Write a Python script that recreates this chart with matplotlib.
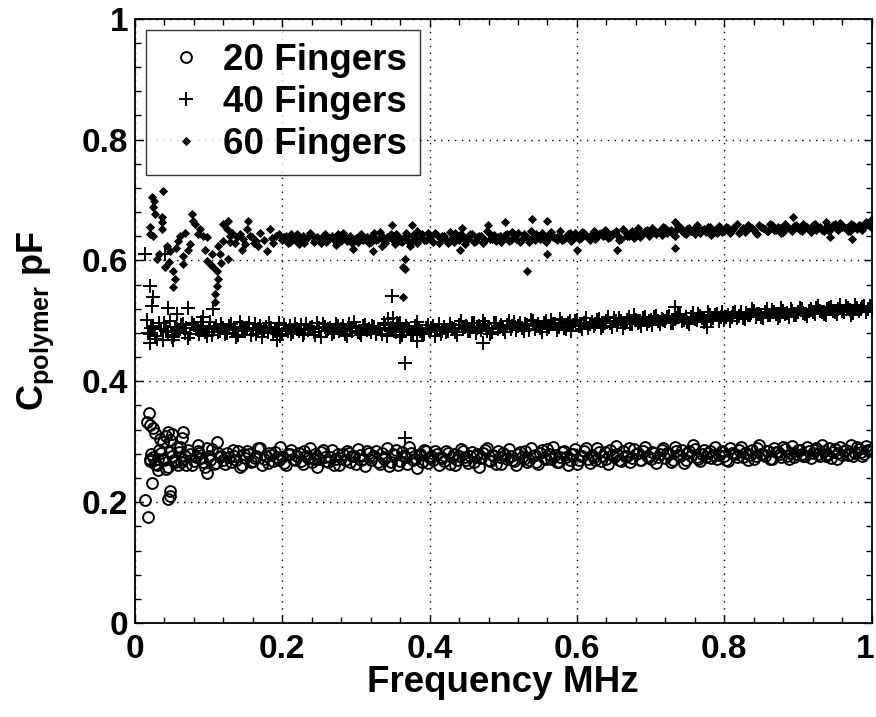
import numpy as np
import matplotlib
matplotlib.use('Agg')
import matplotlib.pyplot as plt
import matplotlib.transforms as mtransforms
from matplotlib.ticker import MultipleLocator

# ---- data ----
# sweep A: frequency step 0.005 MHz starting at 0.02
C20_A = [
    0.268, 0.275, 0.262, 0.281, 0.270, 0.258, 0.277, 0.266,
    0.283, 0.271, 0.262, 0.279, 0.268, 0.285, 0.273, 0.259, 0.276, 0.288, 0.265, 0.274,
    0.270, 0.281, 0.266, 0.277, 0.284, 0.262, 0.273, 0.279, 0.268, 0.276, 0.290, 0.271, 0.265, 0.278, 0.283, 0.269, 0.275, 0.262, 0.280, 0.272,
    0.277, 0.268, 0.284, 0.273, 0.266, 0.279, 0.271, 0.286, 0.268, 0.275, 0.262, 0.280, 0.273, 0.269, 0.282, 0.276, 0.264, 0.278, 0.271, 0.285,
    0.270, 0.277, 0.266, 0.281, 0.274, 0.260, 0.279, 0.287, 0.268, 0.276, 0.263, 0.282, 0.271, 0.278, 0.266, 0.284, 0.273, 0.269, 0.279, 0.275,
    0.268, 0.281, 0.274, 0.262, 0.277, 0.284, 0.270, 0.276, 0.267, 0.280, 0.273, 0.287, 0.269, 0.278, 0.264, 0.275, 0.282, 0.271, 0.277, 0.268,
    0.279, 0.274, 0.285, 0.270, 0.277, 0.266, 0.281, 0.273, 0.288, 0.271, 0.278, 0.267, 0.283, 0.275, 0.270, 0.279, 0.263, 0.277, 0.284, 0.272,
    0.278, 0.269, 0.283, 0.276, 0.271, 0.286, 0.274, 0.280, 0.268, 0.277, 0.290, 0.273, 0.279, 0.270, 0.284, 0.276, 0.272, 0.281, 0.275, 0.287,
    0.273, 0.279, 0.270, 0.284, 0.277, 0.265, 0.281, 0.276, 0.288, 0.272, 0.280, 0.274, 0.285, 0.278, 0.271, 0.283, 0.277, 0.268, 0.282, 0.279,
    0.286, 0.275, 0.281, 0.278, 0.272, 0.289, 0.280, 0.276, 0.284, 0.271, 0.283, 0.279, 0.292, 0.277, 0.282, 0.274, 0.287, 0.280, 0.276, 0.285,
    0.281, 0.290, 0.277, 0.284, 0.279, 0.273, 0.288, 0.282, 0.278, 0.286, 0.280, 0.276, 0.291, 0.283, 0.279, 0.287, 0.284,
]
# sweep B: interleaved, starting at 0.0225
C20_B = [
    0.279, 0.264, 0.286, 0.271, 0.255, 0.283, 0.269, 0.292,
    0.266, 0.277, 0.287, 0.261, 0.274, 0.281, 0.267, 0.290, 0.270, 0.263, 0.282, 0.276,
    0.263, 0.275, 0.286, 0.270, 0.258, 0.279, 0.284, 0.267, 0.273, 0.289, 0.261, 0.277, 0.282, 0.268, 0.274, 0.291, 0.265, 0.280, 0.286, 0.269,
    0.282, 0.264, 0.276, 0.290, 0.271, 0.259, 0.283, 0.275, 0.267, 0.287, 0.272, 0.262, 0.279, 0.284, 0.266, 0.276, 0.288, 0.270, 0.260, 0.281,
    0.275, 0.284, 0.263, 0.272, 0.289, 0.267, 0.278, 0.261, 0.283, 0.274, 0.291, 0.269, 0.257, 0.280, 0.286, 0.265, 0.277, 0.284, 0.262, 0.273,
    0.285, 0.263, 0.279, 0.270, 0.288, 0.274, 0.265, 0.283, 0.277, 0.259, 0.281, 0.290, 0.268, 0.276, 0.285, 0.264, 0.278, 0.288, 0.270, 0.262,
    0.283, 0.272, 0.266, 0.289, 0.278, 0.263, 0.286, 0.271, 0.280, 0.291, 0.267, 0.275, 0.284, 0.262, 0.279, 0.288, 0.269, 0.276, 0.290, 0.265,
    0.274, 0.290, 0.268, 0.283, 0.264, 0.278, 0.293, 0.270, 0.285, 0.276, 0.266, 0.288, 0.281, 0.269, 0.292, 0.274, 0.283, 0.265, 0.279, 0.289,
    0.282, 0.266, 0.291, 0.278, 0.286, 0.270, 0.284, 0.294, 0.275, 0.268, 0.287, 0.281, 0.273, 0.292, 0.278, 0.285, 0.269, 0.290, 0.280, 0.274,
    0.291, 0.282, 0.270, 0.287, 0.276, 0.294, 0.279, 0.285, 0.272, 0.290, 0.283, 0.275, 0.288, 0.271, 0.293, 0.280, 0.286, 0.277, 0.291, 0.273,
    0.287, 0.279, 0.294, 0.276, 0.289, 0.283, 0.272, 0.292, 0.285, 0.278, 0.295, 0.281, 0.288, 0.276, 0.293, 0.286,
]
C40_A = [
    0.478, 0.492, 0.470, 0.486, 0.497, 0.481, 0.474, 0.490,
    0.483, 0.495, 0.488, 0.479, 0.493, 0.485, 0.498, 0.482, 0.489, 0.476, 0.491, 0.484,
    0.488, 0.480, 0.494, 0.486, 0.477, 0.490, 0.483, 0.496, 0.485, 0.479, 0.492, 0.487, 0.481, 0.489, 0.484, 0.497, 0.478, 0.486, 0.491, 0.482,
    0.487, 0.493, 0.480, 0.485, 0.490, 0.477, 0.488, 0.495, 0.483, 0.489, 0.481, 0.492, 0.486, 0.479, 0.494, 0.484, 0.488, 0.480, 0.491, 0.485,
    0.482, 0.490, 0.487, 0.478, 0.493, 0.485, 0.489, 0.481, 0.496, 0.484, 0.488, 0.476, 0.491, 0.486, 0.480, 0.489, 0.483, 0.492, 0.485, 0.479,
    0.490, 0.484, 0.488, 0.481, 0.493, 0.486, 0.491, 0.483, 0.497, 0.488, 0.485, 0.494, 0.489, 0.482, 0.496, 0.490, 0.487, 0.493, 0.486, 0.498,
    0.491, 0.488, 0.495, 0.485, 0.499, 0.492, 0.489, 0.496, 0.487, 0.501, 0.494, 0.490, 0.497, 0.486, 0.499, 0.493, 0.502, 0.491, 0.496, 0.489,
    0.498, 0.494, 0.503, 0.492, 0.499, 0.496, 0.505, 0.493, 0.500, 0.497, 0.507, 0.495, 0.502, 0.498, 0.504, 0.494, 0.501, 0.506, 0.499, 0.503,
    0.500, 0.508, 0.497, 0.504, 0.510, 0.502, 0.498, 0.507, 0.503, 0.511, 0.505, 0.500, 0.509, 0.504, 0.512, 0.506, 0.502, 0.510, 0.507, 0.514,
    0.508, 0.504, 0.513, 0.509, 0.516, 0.511, 0.506, 0.514, 0.510, 0.518, 0.512, 0.508, 0.516, 0.513, 0.519, 0.510, 0.515, 0.520, 0.512, 0.517,
    0.514, 0.521, 0.516, 0.511, 0.519, 0.523, 0.515, 0.520, 0.517, 0.524, 0.518, 0.513, 0.522, 0.519, 0.525, 0.520, 0.518,
]
C40_B = [
    0.488, 0.475, 0.496, 0.469, 0.483, 0.499, 0.477, 0.486,
    0.493, 0.480, 0.472, 0.497, 0.486, 0.479, 0.491, 0.475, 0.498, 0.487, 0.481, 0.494,
    0.479, 0.492, 0.485, 0.474, 0.498, 0.483, 0.489, 0.477, 0.494, 0.486, 0.473, 0.490, 0.496, 0.480, 0.487, 0.475, 0.493, 0.484, 0.478, 0.495,
    0.484, 0.476, 0.494, 0.489, 0.481, 0.497, 0.474, 0.490, 0.486, 0.479, 0.495, 0.483, 0.491, 0.475, 0.488, 0.498, 0.482, 0.477, 0.493, 0.487,
    0.492, 0.479, 0.486, 0.497, 0.475, 0.489, 0.483, 0.494, 0.477, 0.491, 0.486, 0.480, 0.498, 0.484, 0.478, 0.493, 0.488, 0.475, 0.495, 0.483,
    0.481, 0.495, 0.486, 0.477, 0.499, 0.490, 0.483, 0.496, 0.480, 0.492, 0.500, 0.484, 0.479, 0.497, 0.487, 0.493, 0.482, 0.499, 0.491, 0.485,
    0.497, 0.483, 0.493, 0.502, 0.486, 0.495, 0.481, 0.499, 0.490, 0.494, 0.485, 0.503, 0.488, 0.496, 0.484, 0.500, 0.492, 0.487, 0.505, 0.494,
    0.491, 0.502, 0.488, 0.497, 0.507, 0.490, 0.499, 0.504, 0.489, 0.501, 0.494, 0.509, 0.496, 0.491, 0.506, 0.499, 0.493, 0.508, 0.495, 0.502,
    0.507, 0.496, 0.503, 0.512, 0.499, 0.506, 0.495, 0.513, 0.501, 0.508, 0.498, 0.514, 0.503, 0.510, 0.500, 0.515, 0.507, 0.499, 0.513, 0.504,
    0.515, 0.503, 0.510, 0.519, 0.506, 0.512, 0.504, 0.520, 0.509, 0.514, 0.505, 0.521, 0.511, 0.507, 0.517, 0.509, 0.522, 0.513, 0.508, 0.519,
    0.511, 0.525, 0.514, 0.509, 0.522, 0.517, 0.512, 0.526, 0.515, 0.521, 0.510, 0.527, 0.516, 0.523, 0.514, 0.524,
]
# 60 fingers settles from 0.2 MHz on
C60_A = [
    0.634, 0.640, 0.631, 0.637, 0.643, 0.635, 0.629, 0.638, 0.642, 0.633, 0.636, 0.641, 0.630, 0.637, 0.634, 0.644, 0.632, 0.639, 0.635, 0.628,
    0.637, 0.642, 0.633, 0.639, 0.631, 0.645, 0.636, 0.640, 0.629, 0.638, 0.634, 0.643, 0.632, 0.637, 0.641, 0.630, 0.639, 0.635, 0.644, 0.633,
    0.638, 0.631, 0.642, 0.636, 0.640, 0.629, 0.637, 0.645, 0.633, 0.639, 0.635, 0.643, 0.630, 0.638, 0.641, 0.634, 0.646, 0.636, 0.632, 0.640,
    0.637, 0.643, 0.633, 0.639, 0.645, 0.635, 0.641, 0.631, 0.638, 0.644, 0.636, 0.640, 0.634, 0.647, 0.637, 0.642, 0.633, 0.639, 0.645, 0.636,
    0.641, 0.637, 0.646, 0.639, 0.643, 0.635, 0.644, 0.640, 0.648, 0.638, 0.645, 0.642, 0.636, 0.647, 0.641, 0.649, 0.643, 0.639, 0.646, 0.650,
    0.645, 0.651, 0.647, 0.642, 0.653, 0.648, 0.644, 0.650, 0.655, 0.646, 0.652, 0.649, 0.643, 0.654, 0.650, 0.647, 0.656, 0.651, 0.645, 0.652,
    0.648, 0.654, 0.650, 0.657, 0.646, 0.653, 0.649, 0.655, 0.651, 0.644, 0.656, 0.652, 0.648, 0.658, 0.650, 0.654, 0.647, 0.655, 0.651, 0.657,
    0.653, 0.649, 0.656, 0.652, 0.659, 0.650, 0.655, 0.648, 0.657, 0.653, 0.660, 0.651, 0.656, 0.654, 0.649, 0.658, 0.652, 0.657, 0.655, 0.661, 0.654,
]
C60_B = [
    0.638, 0.629, 0.644, 0.633, 0.627, 0.641, 0.636, 0.646, 0.631, 0.639, 0.628, 0.643, 0.635, 0.640, 0.626, 0.637, 0.645, 0.632, 0.641, 0.634,
    0.630, 0.644, 0.636, 0.628, 0.641, 0.634, 0.647, 0.632, 0.638, 0.643, 0.627, 0.640, 0.635, 0.646, 0.631, 0.642, 0.629, 0.637, 0.633, 0.645,
    0.634, 0.645, 0.628, 0.640, 0.633, 0.647, 0.631, 0.639, 0.643, 0.627, 0.636, 0.644, 0.632, 0.641, 0.629, 0.648, 0.635, 0.642, 0.638, 0.631,
    0.642, 0.632, 0.647, 0.636, 0.630, 0.644, 0.638, 0.649, 0.634, 0.641, 0.646, 0.631, 0.643, 0.639, 0.633, 0.648, 0.635, 0.644, 0.632, 0.646,
    0.636, 0.647, 0.641, 0.633, 0.649, 0.638, 0.645, 0.651, 0.637, 0.643, 0.648, 0.634, 0.652, 0.640, 0.646, 0.637, 0.653, 0.644, 0.648, 0.641,
    0.653, 0.643, 0.649, 0.656, 0.645, 0.651, 0.640, 0.657, 0.648, 0.644, 0.654, 0.650, 0.658, 0.646, 0.652, 0.655, 0.642, 0.650, 0.657, 0.647,
    0.655, 0.645, 0.652, 0.660, 0.649, 0.647, 0.658, 0.653, 0.645, 0.659, 0.654, 0.648, 0.661, 0.650, 0.656, 0.646, 0.660, 0.653, 0.649, 0.658,
    0.650, 0.661, 0.655, 0.647, 0.660, 0.654, 0.651, 0.663, 0.649, 0.658, 0.652, 0.662, 0.656, 0.648, 0.661, 0.655, 0.659, 0.650, 0.663, 0.657,
]

# scattered low-frequency points and outliers
C20_EXTRA_F = [0.019, 0.016, 0.020, 0.025, 0.027, 0.034, 0.038, 0.045, 0.065, 0.064, 0.020, 0.031,
               0.031, 0.023, 0.014, 0.018, 0.047, 0.047, 0.045, 0.098, 0.111, 0.085, 0.061, 0.058,
               0.042, 0.048, 0.050]
C20_EXTRA_V = [0.347, 0.332, 0.327, 0.323, 0.314, 0.305, 0.299, 0.316, 0.316, 0.307, 0.272, 0.272,
               0.253, 0.231, 0.203, 0.175, 0.219, 0.211, 0.206, 0.248, 0.299, 0.294, 0.291, 0.261,
               0.309, 0.303, 0.312]

C40_EXTRA_F = [0.014, 0.041, 0.020, 0.025, 0.023, 0.045, 0.072, 0.092, 0.106, 0.016, 0.057, 0.018,
               0.020, 0.052, 0.193, 0.349, 0.360, 0.383, 0.366, 0.366, 0.472, 0.733, 0.777, 0.343,
               0.356, 0.350]
C40_EXTRA_V = [0.610, 0.610, 0.557, 0.540, 0.524, 0.521, 0.521, 0.507, 0.519, 0.502, 0.512, 0.480,
               0.463, 0.468, 0.468, 0.541, 0.474, 0.466, 0.431, 0.307, 0.463, 0.523, 0.490, 0.503,
               0.497, 0.505]

C60_EXTRA_F = [0.038, 0.023, 0.026, 0.025, 0.027, 0.037, 0.037, 0.037, 0.020, 0.020, 0.025, 0.030,
               0.041, 0.052, 0.054, 0.052, 0.043, 0.047, 0.061, 0.065, 0.065, 0.072, 0.075, 0.077,
               0.079, 0.085, 0.092, 0.098, 0.095, 0.098, 0.102, 0.106, 0.111, 0.113, 0.111, 0.109,
               0.109, 0.113, 0.115, 0.120, 0.120, 0.126, 0.125, 0.129, 0.129, 0.126, 0.138, 0.142,
               0.145, 0.149, 0.153, 0.152, 0.159, 0.165, 0.167, 0.179, 0.183, 0.192, 0.132, 0.136,
               0.147, 0.156, 0.162, 0.170, 0.175, 0.186, 0.196, 0.188, 0.058, 0.068, 0.088, 0.082,
               0.033, 0.046, 0.056, 0.104, 0.117,
               0.296, 0.323, 0.336, 0.349, 0.362, 0.373, 0.376, 0.383, 0.366, 0.364, 0.366, 0.364,
               0.532, 0.502, 0.539, 0.559, 0.479, 0.444, 0.441, 0.560, 0.600, 0.655, 0.733, 0.733,
               0.893, 0.943, 0.974, 1.000]
C60_EXTRA_V = [0.715, 0.705, 0.698, 0.688, 0.677, 0.672, 0.663, 0.652, 0.655, 0.643, 0.640, 0.602,
               0.589, 0.582, 0.569, 0.556, 0.624, 0.615, 0.640, 0.607, 0.594, 0.618, 0.627, 0.677,
               0.665, 0.643, 0.640, 0.638, 0.618, 0.599, 0.594, 0.589, 0.582, 0.569, 0.557, 0.544,
               0.531, 0.624, 0.610, 0.632, 0.660, 0.665, 0.652, 0.640, 0.630, 0.602, 0.638, 0.643,
               0.618, 0.627, 0.665, 0.652, 0.638, 0.632, 0.624, 0.615, 0.652, 0.640, 0.645, 0.628,
               0.636, 0.641, 0.629, 0.646, 0.633, 0.637, 0.643, 0.628, 0.632, 0.645, 0.652, 0.660,
               0.610, 0.598, 0.620, 0.611, 0.596,
               0.619, 0.615, 0.624, 0.658, 0.630, 0.624, 0.658, 0.648, 0.602, 0.589, 0.585, 0.539,
               0.583, 0.663, 0.668, 0.666, 0.658, 0.653, 0.617, 0.610, 0.618, 0.618, 0.620, 0.663,
               0.671, 0.638, 0.635, 0.668]

TICKS = [0, 0.2, 0.4, 0.6, 0.8, 1]
TICK_LABELS = ['0', '0.2', '0.4', '0.6', '0.8', '1']

# sweep grids (frequency steps of 0.005 MHz)
f20 = np.concatenate([np.linspace(0.02, 1.0, len(C20_A)), np.linspace(0.0225, 0.9975, len(C20_B)), C20_EXTRA_F])
v20 = np.concatenate([C20_A, C20_B, C20_EXTRA_V])
f40 = np.concatenate([np.linspace(0.02, 1.0, len(C40_A)), np.linspace(0.0225, 0.9975, len(C40_B)), C40_EXTRA_F])
v40 = np.concatenate([C40_A, C40_B, C40_EXTRA_V])
f60 = np.concatenate([np.linspace(0.2, 1.0, len(C60_A)), np.linspace(0.2025, 0.9975, len(C60_B)), C60_EXTRA_F])
v60 = np.concatenate([C60_A, C60_B, C60_EXTRA_V])

# ---- style ----
plt.rcParams['font.family'] = ['Liberation Sans', 'DejaVu Sans']
plt.rcParams['font.weight'] = 'bold'
plt.rcParams['mathtext.fontset'] = 'custom'
plt.rcParams['mathtext.rm'] = 'Liberation Sans:bold'
plt.rcParams['mathtext.it'] = 'Liberation Sans:bold'
plt.rcParams['mathtext.bf'] = 'Liberation Sans:bold'

fig = plt.figure(figsize=(8.76, 7.17), dpi=100)
ax = fig.add_axes([0.154, 0.131, 0.841, 0.843])

ax.plot(f20, v20, 'o', mfc='none', mec='black', ms=7.8, mew=1.4, label='20 Fingers')
ax.plot(f40, v40, '+', color='black', ms=10.5, mew=1.4, label='40 Fingers')
ax.plot(f60, v60, 'D', color='black', ms=3.8, mew=0.6, label='60 Fingers')

ax.set_xlim(0, 1)
ax.set_ylim(0, 1)
ax.set_xticks(TICKS)
ax.set_yticks(TICKS)
ax.set_xticklabels(TICK_LABELS)
ax.set_yticklabels(TICK_LABELS)
ax.xaxis.set_minor_locator(MultipleLocator(0.04))
ax.yaxis.set_minor_locator(MultipleLocator(0.04))
ax.tick_params(which='both', direction='in', top=True, right=True, width=1.0)
ax.tick_params(which='major', length=6, labelsize=24)
ax.tick_params(axis='x', which='major', pad=8)
ax.tick_params(axis='y', which='major', pad=5)
ax.tick_params(which='minor', length=4)
for s in ax.spines.values():
    s.set_linewidth(1.3)

ax.grid(True, which='major', linestyle=(0, (1, 4)), color='black', linewidth=1.0)

ax.set_xlabel('Frequency MHz', fontsize=26.5, fontweight='bold', labelpad=0)
ax.set_ylabel(r'C$_{polymer}$ pF', fontsize=26, fontweight='bold', labelpad=18)

# keep the last x label inside the figure
last = ax.get_xticklabels()[-1]
last.set_horizontalalignment('right')
last.set_transform(last.get_transform() + mtransforms.ScaledTranslation(3 / 100, 0, fig.dpi_scale_trans))

leg = ax.legend(loc='upper left', fontsize=26.5, frameon=True, fancybox=False,
                borderaxespad=0.3, handletextpad=0.25, labelspacing=0.2, borderpad=0.35,
                handlelength=1.5)
leg.get_frame().set_edgecolor('black')
leg.get_frame().set_linewidth(1.0)

fig.savefig('out.png', dpi=100)
